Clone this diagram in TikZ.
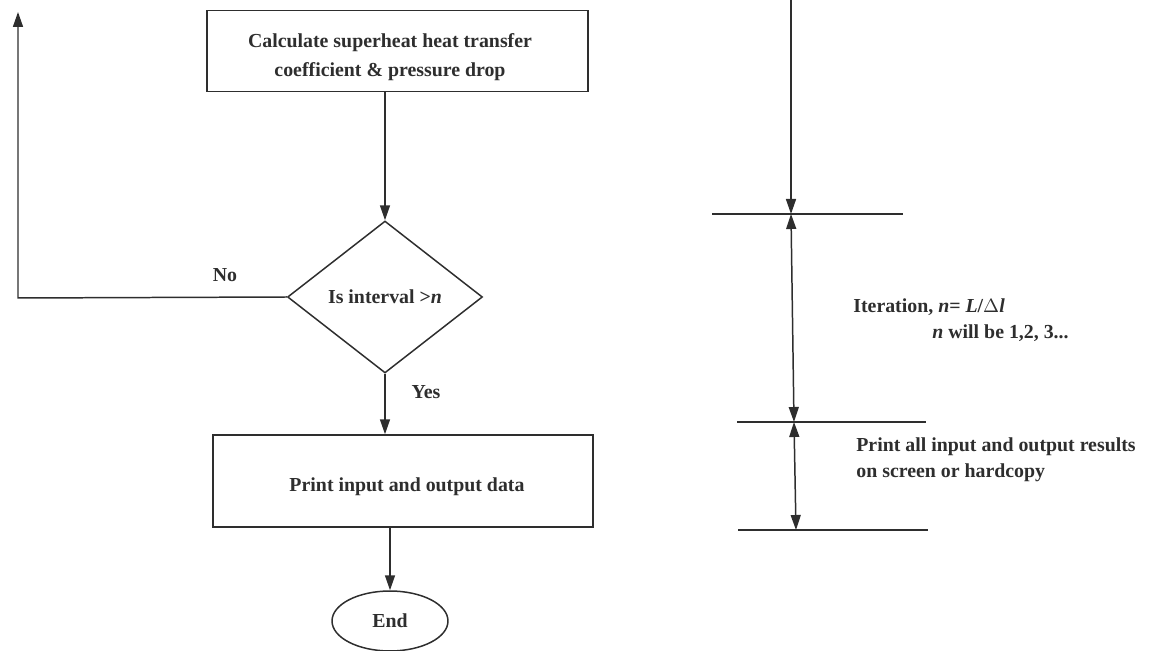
\documentclass[tikz,border=0pt]{standalone}
\usepackage{fontspec}
\setmainfont{Liberation Serif}
\usetikzlibrary{shapes.geometric,arrows.meta}
\definecolor{ink}{HTML}{2E2E2E}
\tikzset{
  ln/.style={draw=ink,line width=0.85pt},
  arr/.style={ln,-{Triangle[length=0.3cm,width=0.2cm]}},
  darr/.style={ln,{Triangle[length=0.3cm,width=0.2cm]}-{Triangle[length=0.3cm,width=0.2cm]}},
  procbox/.style={ln,rectangle,inner sep=0pt},
  decision/.style={ln,diamond,aspect=1.27,inner sep=0pt},
  term/.style={ln,ellipse,inner sep=0pt},
  txt/.style={text=ink,align=center,font=\fontsize{11.3}{16.4}\selectfont\bfseries},
}
\begin{document}
\begin{tikzpicture}[x=0.02cm,y=-0.02cm]
\useasboundingbox (0,0) rectangle (1154,651);
% flowchart
\node[procbox,minimum width=7.62cm,minimum height=1.62cm] (box1) at (397.5,51) {};
\node[txt] (box1txt) at (390,57) {Calculate superheat heat transfer\\coefficient \& pressure drop};
\node[decision,txt,minimum width=3.9cm,minimum height=3.04cm] (dia) at (385,297)
  {Is interval >\textit{n}};
\node[procbox,minimum width=7.6cm,minimum height=1.84cm] (box2) at (403,481) {};
\node[txt] (box2txt) at (407,487) {Print input and output data};
\node[term,txt,minimum width=2.32cm,minimum height=1.2cm] (end) at (390,621) {End};
\draw[arr] (box1.south -| dia.north) -- (dia.north);
\draw[arr] (dia.south) -- (dia.south |- box2.north);
\draw[arr] (box2.south -| end.north) -- (end.north);
\coordinate (loopc) at (18,298);
\coordinate (looptop) at (18,12);
\draw[arr] (dia.west) -- (loopc) -- (looptop);
\node[txt,anchor=base] (no) at (225,282) {No};
\node[txt,anchor=base] (yes) at (426,399) {Yes};
% right-hand timeline
\coordinate (ttop) at (791,0);
\coordinate (t1) at (791,214);
\coordinate (t2) at (794,422);
\coordinate (t3) at (796,530);
\coordinate (h1a) at (712,214);
\coordinate (h1b) at (903,214);
\coordinate (h2a) at (737,422);
\coordinate (h2b) at (926,422);
\coordinate (h3a) at (738,530);
\coordinate (h3b) at (928,530);
\draw[ln] (h1a) -- (h1b);
\draw[ln] (h2a) -- (h2b);
\draw[ln] (h3a) -- (h3b);
\draw[arr] (ttop) -- (t1);
\draw[darr] (t1) -- (t2);
\draw[darr] (t2) -- (t3);
\node[txt,anchor=base west,inner sep=0pt] (it1) at (853,313) {Iteration, \textit{n}= \textit{L}/$\Delta$\textit{l}};
\node[txt,anchor=base west,inner sep=0pt] (it2) at (932,339) {\textit{n} will be 1,2, 3...};
\node[txt,anchor=base west,inner sep=0pt] (pr1) at (856,452) {Print all input and output results};
\node[txt,anchor=base west,inner sep=0pt] (pr2) at (856,478) {on screen or hardcopy};
\end{tikzpicture}
\end{document}
